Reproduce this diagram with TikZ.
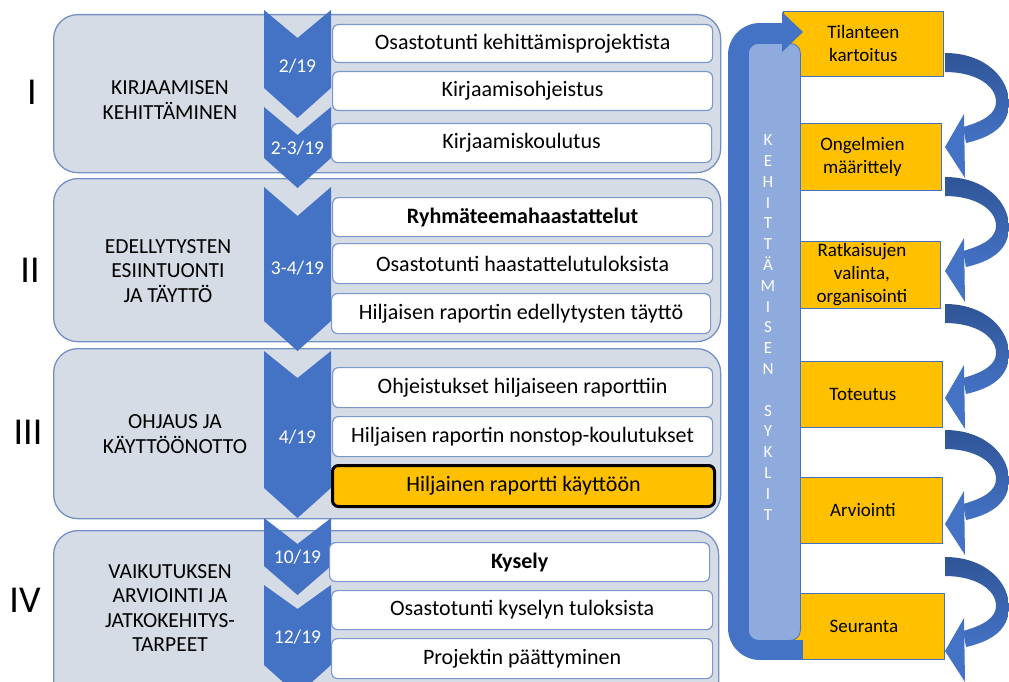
\documentclass[tikz,border=0pt]{standalone}
\usepackage{fontspec}
\setmainfont{Carlito}
\definecolor{panelfill}{HTML}{D6DCE5}
\definecolor{panelline}{HTML}{7390C4}
\definecolor{chev}{HTML}{4472C4}
\definecolor{boxline}{HTML}{7C98CA}
\definecolor{gold}{HTML}{FFC000}
\definecolor{colfill}{HTML}{8FAADC}
\definecolor{arrdark}{HTML}{2F5597}
\definecolor{arrmid}{HTML}{4472C4}
\tikzset{
  panel/.style={draw=panelline, fill=panelfill, line width=1.3pt, rounded corners=24pt,
    anchor=north west, inner sep=0pt},
  wbox/.style={draw=boxline, fill=white, line width=1.2pt, rounded corners=6pt,
    anchor=north west, inner sep=0pt, font=\fontsize{22}{25}\selectfont},
  keybox/.style={wbox, fill=gold, draw=black, line width=3pt},
  obox/.style={draw=chev, fill=gold, line width=0.8pt, anchor=north west, inner sep=0pt,
    font=\fontsize{19}{23}\selectfont, align=center},
  chevron/.style={fill=chev},
  chevtext/.style={text=white, font=\fontsize{19.5}{22}\selectfont},
  phase/.style={font=\fontsize{21.5}{24.5}\selectfont, align=center},
  roman/.style={font=\fontsize{38}{40}\selectfont},
  band/.style={fill=chev},
  cyclecol/.style={draw=chev, fill=colfill, line width=0.8pt, rounded corners=10pt,
    anchor=north west, inner sep=0pt},
  cycletext/.style={text=white, font=\fontsize{17}{20.8}\selectfont, align=center},
  shaft/.style={top color=arrdark, bottom color=arrmid, draw=none},
  tip/.style={fill=arrmid},
}
% curved step arrow on the right: #1 = top of the shaft where it leaves a box
\newcommand{\steparrow}[1]{%
  \shade[shaft] (945,#1) .. controls (985,#1) and (1010,#1+25) .. (1009,#1+52)
    .. controls (1008,#1+72) and (993,#1+84) .. (966,#1+90)
    -- (963,#1+74)
    .. controls (985,#1+68) and (996,#1+60) .. (996,#1+49)
    .. controls (996,#1+32) and (975,#1+19) .. (945,#1+19) -- cycle;
  \fill[tip] (945,#1+94) -- (964,#1+61) -- (965,#1+125) -- cycle;
}
\begin{document}
\begin{tikzpicture}[x=1pt, y=-1pt]
\useasboundingbox (0,0) rectangle (1009,682);
\clip (0,0) rectangle (1009,682);

% phase panels
\node[panel, minimum width=667pt, minimum height=158pt] (p1) at (53,14) {};
\node[panel, minimum width=667pt, minimum height=163pt] (p2) at (53,178) {};
\node[panel, minimum width=667pt, minimum height=170pt] (p3) at (53,348) {};
\node[panel, minimum width=665pt, minimum height=175pt] (p4) at (53,530) {};

% phase numbers and titles
\node[roman] (r1) at (32,92) {I};
\node[roman] (r2) at (30,270) {II};
\node[roman] (r3) at (28,432) {III};
\node[roman] (r4) at (25,600) {IV};
\node[phase] (t1) at (170,100) {KIRJAAMISEN\\KEHITTÄMINEN};
\node[phase] (t2) at (168,271) {EDELLYTYSTEN\\ESIINTUONTI\\JA TÄYTTÖ};
\node[phase] (t3) at (175,434) {OHJAUS JA\\KÄYTTÖÖNOTTO};
\node[phase] (t4) at (170,608) {VAIKUTUKSEN\\ARVIOINTI JA\\JATKOKEHITYS-\\TARPEET};

% timeline chevrons
\fill[chevron] (264,10) -- (297.5,38) -- (331,10) -- (331,88) -- (297.5,118) -- (264,88) -- cycle;
\fill[chevron] (264,107) -- (297.5,135) -- (331,107) -- (331,158) -- (297.5,188) -- (264,158) -- cycle;
\fill[chevron] (264,187) -- (297.5,216) -- (331,187) -- (331,321) -- (297.5,351) -- (264,321) -- cycle;
\fill[chevron] (264,351) -- (297.5,378) -- (331,351) -- (331,488) -- (297.5,518) -- (264,488) -- cycle;
\fill[chevron] (264,518) -- (297.5,544) -- (331,518) -- (331,566) -- (297.5,595) -- (264,566) -- cycle;
\fill[chevron] (264,585) -- (297.5,609) -- (331,585) -- (331,665) -- (297.5,695) -- (264,665) -- cycle;
\node[chevtext] (c1) at (297.5,66) {2/19};
\node[chevtext] (c2) at (297.5,148) {2-3/19};
\node[chevtext] (c3) at (297.5,268) {3-4/19};
\node[chevtext] (c4) at (297.5,437) {4/19};
\node[chevtext] (c5) at (297.5,557) {10/19};
\node[chevtext] (c6) at (297.5,637) {12/19};

% activities
\node[wbox, minimum width=380pt, minimum height=38pt] (b1) at (332,24) {Osastotunti kehittämisprojektista};
\node[wbox, minimum width=380pt, minimum height=39pt] (b2) at (332,71) {Kirjaamisohjeistus};
\node[wbox, minimum width=380pt, minimum height=39pt] (b3) at (331,123) {Kirjaamiskoulutus};
\node[wbox, minimum width=380pt, minimum height=39pt] (b4) at (332,197) {\textbf{Ryhmäteemahaastattelut}};
\node[wbox, minimum width=380pt, minimum height=40pt] (b5) at (332,243) {Osastotunti haastattelutuloksista};
\node[wbox, minimum width=379pt, minimum height=40pt] (b6) at (331,293) {Hiljaisen raportin edellytysten täyttö};
\node[wbox, minimum width=380pt, minimum height=40pt] (b7) at (332,367) {Ohjeistukset hiljaiseen raporttiin};
\node[wbox, minimum width=380pt, minimum height=40pt] (b8) at (332,416) {Hiljaisen raportin nonstop-koulutukset};
\node[keybox, minimum width=382pt, minimum height=41pt] (b9) at (331,464) {Hiljainen raportti käyttöön};
\node[wbox, minimum width=380pt, minimum height=39pt] (b10) at (329,542) {\textbf{Kysely}};
\node[wbox, minimum width=381pt, minimum height=39pt] (b11) at (331,590) {Osastotunti kyselyn tuloksista};
\node[wbox, minimum width=381pt, minimum height=40pt] (b12) at (331,638) {Projektin päättyminen};

% development cycle steps
\node[obox, minimum width=160pt, minimum height=65pt] (s1) at (783,11) {Tilanteen\\kartoitus};
\node[obox, minimum width=158pt, minimum height=67pt] (s2) at (783,123) {Ongelmien\\määrittely};
\node[obox, minimum width=157pt, minimum height=67pt] (s3) at (783,241) {Ratkaisujen\\valinta,\\organisointi};
\node[obox, minimum width=159pt, minimum height=66pt] (s4) at (783,361) {Toteutus};
\node[obox, minimum width=159pt, minimum height=66pt] (s5) at (783,477) {Arviointi};
\node[obox, minimum width=161pt, minimum height=66pt] (s6) at (783,593) {Seuranta};

% return band around the cycle column
\fill[band, rounded corners=32pt] (728,23) rectangle (792,660);
\fill[band] (760,23) rectangle (786,43);
\fill[band] (760,640) rectangle (803,660);
\node[cyclecol, minimum width=52pt, minimum height=597pt] (col) at (748,43) {};
\fill[band] (782,12) -- (803,32) -- (782,52) -- cycle;
\node[cycletext] (coltext) at (768,327.5)
  {K\\E\\H\\I\\T\\T\\Ä\\M\\I\\S\\E\\N\\\mbox{}\\S\\Y\\K\\L\\I\\T};

% step-to-step arrows
\steparrow{53}
\steparrow{177}
\steparrow{304}
\steparrow{430}
\steparrow{557}
\end{tikzpicture}
\end{document}
